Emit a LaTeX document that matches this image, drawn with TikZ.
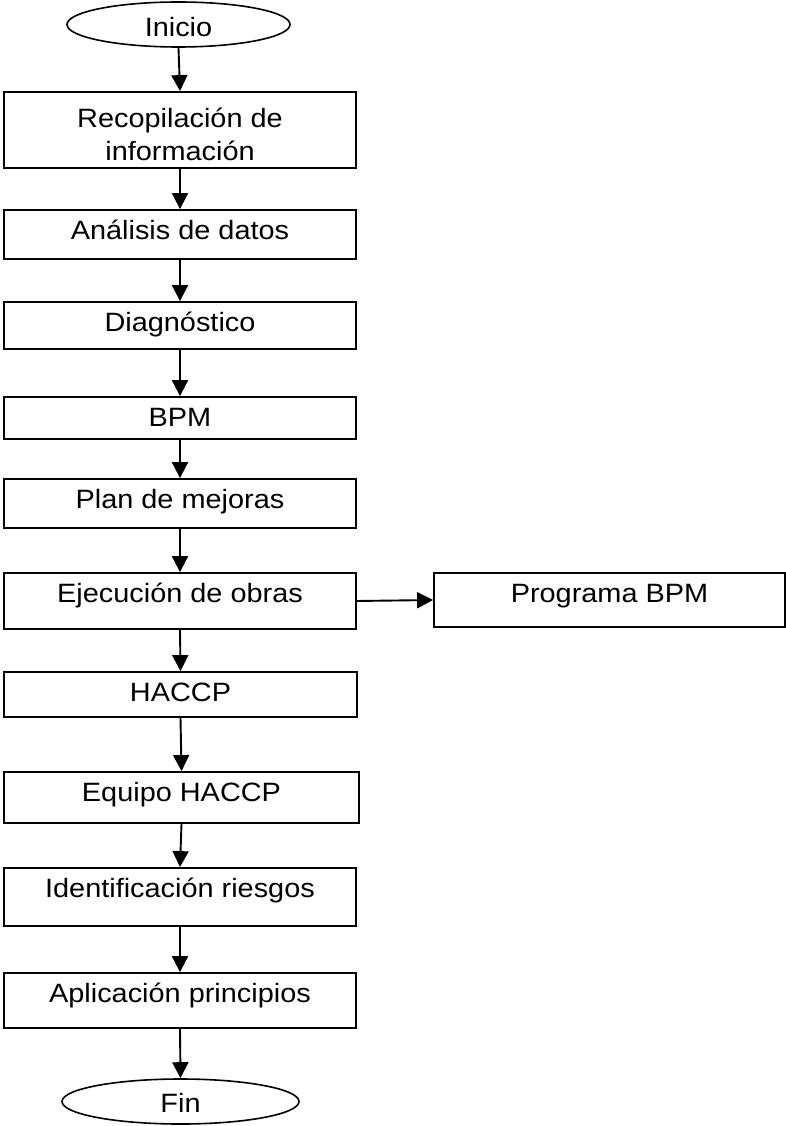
\documentclass[tikz,border=0pt]{standalone}
\usepackage{fontspec}
\setmainfont[FakeStretch=1.09]{Liberation Sans}
\usetikzlibrary{arrows.meta,shapes.geometric}

\begin{document}
\begin{tikzpicture}[x=1pt,y=-1pt,
  every node/.style={font=\fontsize{26.5}{33}\selectfont},
  stepbox/.style={draw, line width=1.8pt, rectangle, inner xsep=0pt, inner ysep=0pt,
                  minimum width=352pt, text height=29pt},
  term/.style={draw, line width=1.6pt, ellipse, inner sep=0pt, text depth=0pt,
               minimum width=223pt, minimum height=45pt},
  flow/.style={line width=1.9pt, -{Triangle[length=16pt,width=16pt]}}]
\useasboundingbox[fill=white] (0,0) rectangle (786,1126);

% terminals
\node[term, text height=25pt] (ini) at (178.5,24.5) {Inicio};
\node[term, text height=21pt, minimum width=237pt] (fin) at (180.5,1101.5) {Fin};

% process steps
\node[stepbox, align=center, text height=69pt, text depth=7pt] (b1) at (180,130) {Recopilación de\\información};
\node[stepbox, text depth=20pt] (b2) at (180,234.5) {Análisis de datos};
\node[stepbox, text depth=18pt] (b3) at (180,325.5) {Diagnóstico};
\node[stepbox, text depth=13pt] (b4) at (180,418) {BPM};
\node[stepbox, text depth=20pt] (b5) at (180,503.5) {Plan de mejoras};
\node[stepbox, text depth=27pt] (b6) at (180,601) {Ejecución de obras};
\node[stepbox, text depth=16pt, minimum width=353pt] (b7) at (180.5,694.5) {HACCP};
\node[stepbox, text depth=22pt, minimum width=355pt] (b8) at (181.5,797.5) {Equipo HACCP};
\node[stepbox, text depth=29pt] (b9) at (180,897) {Identificación riesgos};
\node[stepbox, text depth=26pt] (b10) at (180,1000.5) {Aplicación principios};
\node[stepbox, text depth=25pt, minimum width=351pt] (prog) at (609.5,600) {Programa BPM};

% connectors
\draw[flow] (ini.south) -- (b1.north);
\draw[flow] (b1.south) -- (b2.north);
\draw[flow] (b2.south) -- (b3.north);
\draw[flow] (b3.south) -- (b4.north);
\draw[flow] (b4.south) -- (b5.north);
\draw[flow] (b5.south) -- (b6.north);
\draw[flow] (b6.east) -- (prog.west);
\draw[flow] (b6.south) -- (b7.north);
\draw[flow] (b7.south) -- (b8.north);
\draw[flow] (b8.south) -- (b9.north);
\draw[flow] (b9.south) -- (b10.north);
\draw[flow] (b10.south) -- (fin.north);
\end{tikzpicture}
\end{document}
